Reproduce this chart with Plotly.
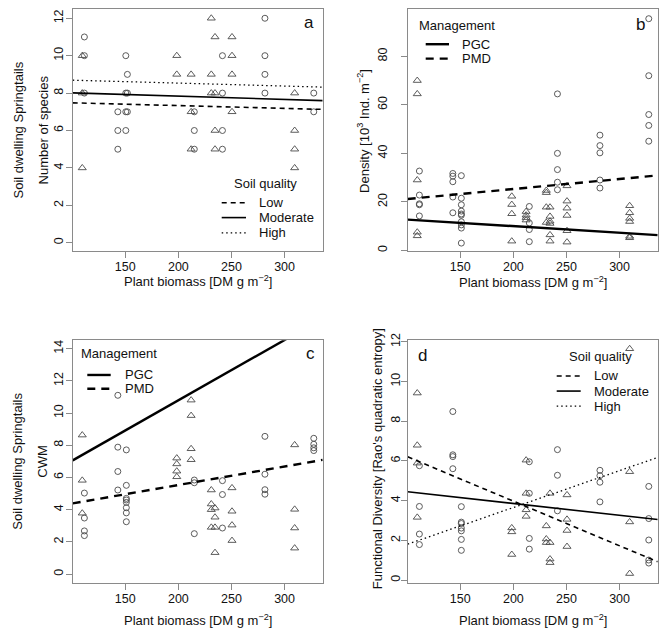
import plotly.graph_objects as go

W, H = 660, 631
FONT = "Liberation Sans, Arial, Helvetica, sans-serif"

# ---------------- data ----------------
x_ticks = [150, 200, 250, 300]
x_range = [100.5, 335.9]
x_title = "Plant biomass [DM g m<sup>−2</sup>]"

# panel a: number of species
a_tri_x = [109.5, 109.5, 109.5, 198.5, 198.5, 212, 212, 212, 231, 231, 231,
           234.5, 234.5, 234.5, 234.5, 250.5, 250.5, 250.5, 250.5,
           309.5, 309.5, 309.5, 309.5]
a_tri_y = [10, 8, 4, 10, 9, 9, 7, 5, 12, 9, 8,
           11, 8, 6, 5, 11, 10, 9, 7,
           8, 6, 5, 4]
a_cir_x = [111.5, 111.5, 111.5, 143, 143, 143, 150.5, 150.5, 150.5, 150.5,
           152, 152, 152, 215, 215, 215, 241.5, 241.5, 241.5, 241.5,
           281.5, 281.5, 281.5, 281.5, 327.5, 327.5]
a_cir_y = [11, 10, 8, 7, 6, 5, 10, 8, 7, 6,
           9, 8, 7, 7, 6, 5, 10, 8, 6, 5,
           12, 10, 9, 8, 8, 7]
a_fit_names = ["Low", "Moderate", "High"]
a_fit_intercept = [7.629, 8.185, 8.848]
a_fit_slope = [-0.001487, -0.001742, -0.001572]

# panel b: density
b_tri_x = [109.5, 109.5, 109.5, 109.5, 109.5, 198.5, 198.5, 198.5, 198.5,
           212, 212, 212, 212, 231, 231, 231, 231,
           234.5, 234.5, 234.5, 234.5, 234.5, 234.5,
           250.5, 250.5, 250.5, 250.5, 250.5, 250.5,
           309.5, 309.5, 309.5, 309.5, 309.5, 309.5]
b_tri_y = [70, 64.5, 29, 7.5, 6, 22.3, 18.9, 15.1, 3.8,
           16, 14.5, 13.5, 12.5, 24.7, 23.8, 17.8, 11.5,
           17.8, 14, 12, 11.1, 6.4, 3.8,
           26.6, 20.3, 17.4, 14.4, 8.1, 3.4,
           18.4, 15.5, 13.2, 11.9, 5.8, 5.2]
b_cir_x = [111.5, 111.5, 111.5, 111.5, 111.5, 143, 143, 143, 143, 143,
           151, 151, 151, 151, 151, 151, 151, 151, 151, 151,
           215, 215, 215, 215, 241.5, 241.5, 241.5, 241.5, 241.5,
           281.5, 281.5, 281.5, 281.5, 281.5, 327.5, 327.5, 327.5, 327.5, 327.5]
b_cir_y = [32.7, 22.8, 19.2, 18.8, 14.2, 31.7, 30.6, 28.3, 22, 15.5,
           30.8, 21.5, 18.8, 16.2, 15, 14.5, 11.8, 10.5, 9.2, 3.0,
           18.1, 11.3, 8.6, 3.6, 64.5, 40, 33.3, 28.1, 25,
           47.5, 43.2, 40.2, 29, 25.7, 95.5, 72, 56, 51.5, 45]
b_fit_names = ["PGC", "PMD"]
b_fit_intercept = [15.43, 17.06]
b_fit_slope = [-0.02719, 0.04121]

# panel c: CWM
c_tri_x = [109.5, 109.5, 109.5, 198.5, 198.5, 198.5, 198.5, 212, 212, 212, 212,
           231, 231, 231, 231, 234.5, 234.5, 234.5, 234.5,
           250.5, 250.5, 250.5, 250.5, 309.5, 309.5, 309.5, 309.5]
c_tri_y = [8.63, 5.82, 3.78, 7.2, 6.84, 6.39, 6.04, 10.8, 9.84, 7.78, 7.1,
           5.22, 4.35, 4.0, 2.9, 4.1, 3.53, 2.9, 1.33,
           5.35, 3.9, 3.04, 2.08, 8.02, 4.02, 2.86, 1.61]
c_cir_x = [111.5, 111.5, 111.5, 111.5, 143, 143, 143, 143,
           151, 151, 151, 151, 151, 151, 151, 151,
           215, 215, 215, 241.5, 241.5, 241.5,
           281.5, 281.5, 281.5, 281.5, 327.5, 327.5, 327.5, 327.5]
c_cir_y = [5.03, 3.48, 2.68, 2.39, 11.1, 7.88, 6.37, 5.22,
           7.71, 5.51, 4.7, 4.6, 4.45, 4.12, 3.8, 3.25,
           5.84, 5.67, 2.51, 5.8, 4.94, 2.86,
           8.55, 6.2, 5.24, 4.96, 8.43, 8.06, 7.84, 7.67]
c_fit_names = ["PGC", "PMD"]
c_fit_intercept = [3.295, 3.237]
c_fit_slope = [0.03746, 0.01147]

# panel d: functional diversity
d_tri_x = [109.5, 109.5, 109.5, 109.5, 198.5, 198.5, 198.5, 212, 212, 212, 212,
           231, 231, 231, 234.5, 234.5, 234.5, 234.5,
           250.5, 250.5, 250.5, 250.5, 309.5, 309.5, 309.5, 309.5]
d_tri_y = [9.42, 6.79, 5.89, 3.16, 2.63, 2.43, 1.29, 6.04, 4.37, 3.54, 3.21,
           2.73, 2.07, 1.89, 4.37, 1.89, 1.06, 0.88,
           4.29, 3.06, 2.5, 1.69, 11.65, 5.46, 2.93, 0.33]
d_cir_x = [111.5, 111.5, 111.5, 111.5, 143, 143, 143, 143,
           151, 151, 151, 151, 151, 151, 151,
           215, 215, 215, 215, 241.5, 241.5, 241.5,
           281.5, 281.5, 281.5, 281.5, 327.5, 327.5, 327.5, 327.5, 327.5]
d_cir_y = [5.76, 3.71, 2.32, 1.79, 8.49, 6.31, 6.22, 5.61,
           3.7, 2.92, 2.85, 2.62, 2.48, 2.05, 1.5,
           5.96, 4.37, 2.1, 1.56, 6.57, 5.28, 3.49,
           5.53, 5.26, 4.93, 3.94, 4.72, 3.1, 2.02, 1.01, 0.86]
d_fit_names = ["Low", "Moderate", "High"]
d_fit_intercept = [8.467, 5.048, -0.055]
d_fit_slope = [-0.02246, -0.00595, 0.01856]

# ---------------- styles ----------------
PT_COLOR = "#4a4a4a"
BOX_COLOR = "#8a8a8a"
thin_styles = {"Low": dict(width=1.6, dash="5px,4px"),
               "Moderate": dict(width=1.6, dash="solid"),
               "High": dict(width=1.3, dash="1.5px,3px")}
thick_styles = {"PGC": dict(width=2.4, dash="solid"),
                "PMD": dict(width=2.4, dash="8px,6px")}


def px(x):
    return x / W


def py(y):
    return 1 - y / H


panels = [
    dict(ax="", xd=(72.7, 322.7), yd=(2.5, 247.5), yr=[-0.46, 12.47], yt=list(range(0, 13, 2)),
         tri=(a_tri_x, a_tri_y), cir=(a_cir_x, a_cir_y),
         fit=(a_fit_names, a_fit_intercept, a_fit_slope), st=thin_styles, standoff=-2),
    dict(ax="2", xd=(407.7, 657.7), yd=(2.5, 247.5), yr=[-0.4, 99.3], yt=list(range(0, 81, 20)),
         tri=(b_tri_x, b_tri_y), cir=(b_cir_x, b_cir_y),
         fit=(b_fit_names, b_fit_intercept, b_fit_slope), st=thick_styles, standoff=9),
    dict(ax="3", xd=(72.7, 322.7), yd=(337.5, 583.5), yr=[-0.56, 14.52], yt=list(range(0, 15, 2)),
         tri=(c_tri_x, c_tri_y), cir=(c_cir_x, c_cir_y),
         fit=(c_fit_names, c_fit_intercept, c_fit_slope), st=thick_styles, standoff=-2),
    dict(ax="4", xd=(407.7, 657.7), yd=(337.5, 583.5), yr=[-0.15, 12.08], yt=list(range(0, 13, 2)),
         tri=(d_tri_x, d_tri_y), cir=(d_cir_x, d_cir_y),
         fit=(d_fit_names, d_fit_intercept, d_fit_slope), st=thin_styles, standoff=-4),
]

fig = go.Figure()
layout = dict(width=W, height=H, margin=dict(l=0, r=0, t=0, b=0), autosize=False,
              paper_bgcolor="white", plot_bgcolor="white", showlegend=False,
              font=dict(family=FONT, size=13, color="#111"))

for p in panels:
    xa, ya = "x" + p["ax"], "y" + p["ax"]
    tx, ty = p["tri"]
    cx, cy = p["cir"]
    fig.add_trace(go.Scatter(x=tx, y=ty, mode="markers", xaxis=xa, yaxis=ya,
                             marker=dict(symbol="triangle-up-open", size=7, color=PT_COLOR,
                                         line=dict(width=0.9, color=PT_COLOR)), cliponaxis=False))
    fig.add_trace(go.Scatter(x=cx, y=cy, mode="markers", xaxis=xa, yaxis=ya,
                             marker=dict(symbol="circle-open", size=6, color=PT_COLOR,
                                         line=dict(width=0.9, color=PT_COLOR)), cliponaxis=False))
    names, icpt, slope = p["fit"]
    for n, a, b in zip(names, icpt, slope):
        xs = list(x_range)
        ys = [a + b * v for v in xs]
        fig.add_trace(go.Scatter(x=xs, y=ys, mode="lines", name=n, xaxis=xa, yaxis=ya,
                                 line=dict(color="black", **p["st"][n])))
    axis_common = dict(showline=True, mirror=True, linecolor=BOX_COLOR, linewidth=1,
                       ticks="outside", ticklen=6, tickcolor=BOX_COLOR, tickwidth=1,
                       showgrid=False, zeroline=False, tickfont=dict(size=12.5, color="#111"))
    layout["xaxis" + p["ax"]] = dict(domain=[px(p["xd"][0]), px(p["xd"][1])], range=x_range,
                                     tickvals=x_ticks, anchor=ya, ticklabelstandoff=-2,
                                     **axis_common)
    layout["yaxis" + p["ax"]] = dict(domain=[py(p["yd"][1]), py(p["yd"][0])], range=p["yr"],
                                     tickvals=p["yt"], anchor=xa, tickangle=-90,
                                     ticklabelstandoff=p["standoff"], **axis_common)

fig.update_layout(**layout)

ann = []
shapes = []


def text(x, y, s, size=13, xanchor="left", angle=0):
    ann.append(dict(x=px(x), y=py(y), xref="paper", yref="paper", text=s, showarrow=False,
                    xanchor=xanchor, yanchor="middle", textangle=angle,
                    font=dict(family=FONT, size=size, color="#111")))


def legline(x0, x1, y, style):
    shapes.append(dict(type="line", xref="paper", yref="paper", x0=px(x0), x1=px(x1),
                       y0=py(y), y1=py(y), line=dict(color="black", **style)))


# axis titles
text(197.7, 277.5, x_title, xanchor="center")
text(532.7, 278.5, x_title, xanchor="center")
text(197.7, 620.5, x_title, xanchor="center")
text(532.7, 620.5, x_title, xanchor="center")
text(18, 125, "Soil dwelling Springtails", xanchor="center", angle=-90)
text(43, 125, "Number of species", xanchor="center", angle=-90)
text(363.5, 126, "Density [10<sup>3</sup> Ind. m<sup>−2</sup>]", xanchor="center", angle=-90)
text(18, 460.5, "Soil dwelling Springtails", xanchor="center", angle=-90)
text(43, 460.5, "CWM", xanchor="center", angle=-90)
text(377, 458, "Functional Diversity [Rao's quadratic entropy]", xanchor="center", angle=-90)

# panel letters
text(309, 15.5, "a", size=17, xanchor="center")
text(640.5, 18, "b", size=17, xanchor="center")
text(310.5, 351.3, "c", size=17, xanchor="center")
text(422, 353, "d", size=17, xanchor="center")

# legend panel a
text(232.3, 179, "Soil quality")
for n, yy in zip(a_fit_names, [198.3, 213.3, 228.7]):
    legline(221.7, 246, yy, thin_styles[n])
    text(256.7, yy, n)
# legend panel b
text(416.7, 18.3, "Management")
for n, yy in zip(b_fit_names, [37.7, 52.3]):
    legline(425.7, 449, yy, thick_styles[n])
    text(460, yy, n)
# legend panel c
text(79, 350.7, "Management")
for n, yy in zip(c_fit_names, [372.7, 386.7]):
    legline(87.3, 110.7, yy, thick_styles[n])
    text(122.7, yy, n)
# legend panel d
text(567.3, 354.3, "Soil quality")
for n, yy in zip(d_fit_names, [373.7, 389, 404.3]):
    legline(556.7, 580.7, yy, thin_styles[n])
    text(591.7, yy, n)

fig.update_layout(annotations=ann, shapes=shapes)
fig.write_html("out.html", config={"displayModeBar": False},
               post_script="document.body.style.margin='0';document.body.style.overflow='hidden';")
